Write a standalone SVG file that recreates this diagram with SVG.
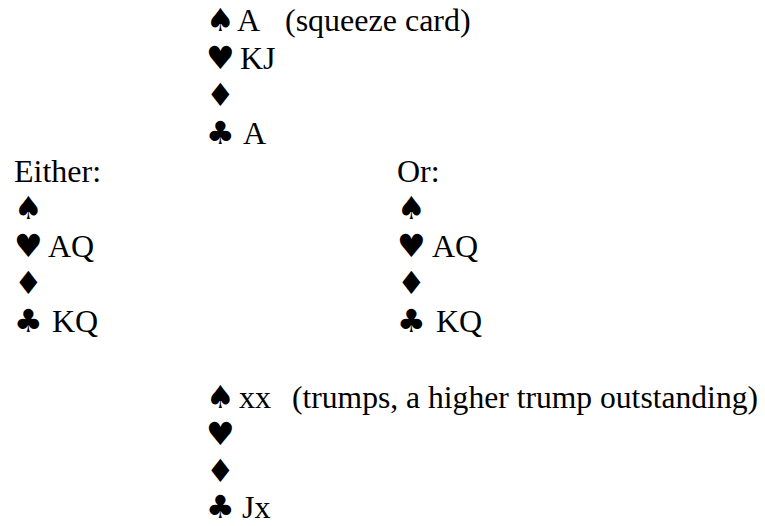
<svg xmlns="http://www.w3.org/2000/svg" width="765" height="526" viewBox="0 0 765 526">
<style>
.t{font-family:"Liberation Serif","Times New Roman",serif;font-size:32px;fill:#000}
.s{font-family:"DejaVu Sans",sans-serif;font-size:32px;fill:#000}
</style>
<rect width="765" height="526" fill="#fff"/>
<g id="north">
<text class="s" x="206" y="31">♠</text><text class="t" x="237" y="31">A</text><text class="t" x="285" y="31">(squeeze card)</text>
<text class="s" x="206" y="69">♥</text><text class="t" x="240" y="69">KJ</text>
<text class="s" x="206" y="106">♦</text>
<text class="s" x="206" y="144">♣</text><text class="t" x="243" y="144">A</text>
</g>
<g id="west">
<text class="t" x="14" y="182">Either:</text>
<text class="s" x="14" y="219">♠</text>
<text class="s" x="14" y="257">♥</text><text class="t" x="48" y="257">AQ</text>
<text class="s" x="14" y="294">♦</text>
<text class="s" x="14" y="332">♣</text><text class="t" x="52" y="332">KQ</text>
</g>
<g id="east">
<text class="t" x="397" y="182">Or:</text>
<text class="s" x="397" y="219">♠</text>
<text class="s" x="397" y="257">♥</text><text class="t" x="432" y="257">AQ</text>
<text class="s" x="397" y="294">♦</text>
<text class="s" x="397" y="332">♣</text><text class="t" x="436" y="332">KQ</text>
</g>
<g id="south">
<text class="s" x="206" y="408">♠</text><text class="t" x="239" y="408">xx</text><text class="t" x="292" y="408" textLength="466" lengthAdjust="spacingAndGlyphs">(trumps, a higher trump outstanding)</text>
<text class="s" x="206" y="445">♥</text>
<text class="s" x="206" y="482">♦</text>
<text class="s" x="206" y="518">♣</text><text class="t" x="242" y="518">Jx</text>
</g>
<g id="connectors"></g>
</svg>
